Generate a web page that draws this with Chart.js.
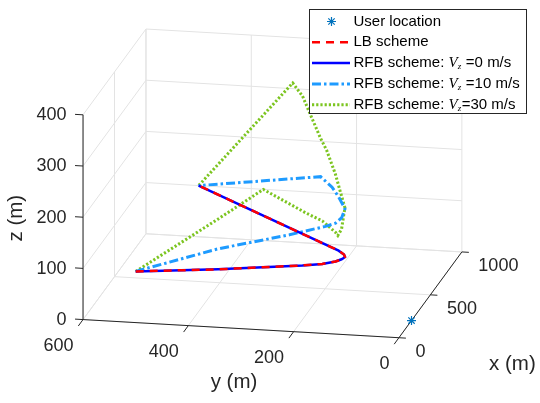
<!DOCTYPE html>
<html>
<head>
<meta charset="utf-8">
<script src="https://cdn.jsdelivr.net/npm/chart.js@4.4.0/dist/chart.umd.min.js"></script>
<style>
  html, body { margin: 0; padding: 0; background: #fff; }
  canvas { display: block; }
</style>
</head>
<body>
<canvas id="trajChart" width="540" height="403"></canvas>
<script>
// axis limits and ticks (m)
const xLim = [0, 1000];
const yLim = [0, 600];
const zLim = [0, 400];
const xTicks = [0, 500, 1000];
const yTicks = [0, 200, 400, 600];
const zTicks = [0, 100, 200, 300, 400];

const legendLabels = [
  "User location",
  "LB scheme",
  "RFB scheme: V_z =0 m/s",
  "RFB scheme: V_z =10 m/s",
  "RFB scheme: V_z=30 m/s",
];

// user location
const userX = [200];
const userY = [0];
const userZ = [0];

// LB scheme
const lbX = [0, 76, 174, 204, 239, 268, 284, 297, 323, 363, 1000];
const lbY = [500, 353, 204, 170, 149, 141, 139, 138, 143, 158, 500];
const lbZ = [100, 100, 100, 100, 100, 100, 100, 100, 100, 100, 100];

// RFB scheme, Vz = 0
const rfb0X = [0, 76, 174, 204, 239, 268, 284, 297, 323, 363, 1000];
const rfb0Y = [500, 353, 204, 170, 149, 141, 139, 138, 143, 158, 500];
const rfb0Z = [100, 100, 100, 100, 100, 100, 100, 100, 100, 100, 100];

// RFB scheme, Vz = 10
const rfb10X = [0, 76, 159, 194, 213, 239, 270, 290, 297, 332, 363, 393, 446, 1000];
const rfb10Y = [500, 353, 227, 181, 165, 149, 141, 139, 138, 146, 158, 174, 202, 500];
const rfb10Z = [100, 140, 161, 170, 172, 175, 181, 190, 194, 195, 205, 218, 228, 100];

// RFB scheme, Vz = 30
const rfb30X = [0, 76, 129, 179, 204, 239, 251, 268, 284, 297, 351, 378, 417, 445, 482, 527, 571, 1000];
const rfb30Y = [500, 353, 273, 198, 170, 149, 146, 141, 139, 138, 154, 166, 187, 202, 222, 246, 270, 500];
const rfb30Z = [100, 198, 252, 202, 184, 157, 149, 159, 182, 196, 220, 247, 285, 303, 333, 369, 386, 100];

// camera: screen position of (0,0,0) and displacement of each full axis span
const view = {
  origin: [401.7, 341.7],
  ex: [64.3, -88.3],
  ey: [-322.7, -18.7],
  ez: [0, -210.7],
};

function project(x, y, z) {
  const u = (x - xLim[0]) / (xLim[1] - xLim[0]);
  const v = (y - yLim[0]) / (yLim[1] - yLim[0]);
  const w = (z - zLim[0]) / (zLim[1] - zLim[0]);
  return {
    x: view.origin[0] + u * view.ex[0] + v * view.ey[0] + w * view.ez[0],
    y: view.origin[1] + u * view.ex[1] + v * view.ey[1] + w * view.ez[1],
  };
}

function toPoints(xs, ys, zs) {
  return xs.map((x, i) => project(x, ys[i], zs[i]));
}

const axisColor = "#262626";
const gridColor = "#e3e3e3";

const box3d = {
  id: "box3d",
  beforeDatasetsDraw(chart) {
    const ctx = chart.ctx;
    const sx = chart.scales.x;
    const sy = chart.scales.y;
    const P = (x, y, z) => {
      const p = project(x, y, z);
      return [sx.getPixelForValue(p.x), sy.getPixelForValue(p.y)];
    };
    function seg(a, b, color) {
      ctx.beginPath();
      ctx.moveTo(a[0], a[1]);
      ctx.lineTo(b[0], b[1]);
      ctx.strokeStyle = color;
      ctx.stroke();
    }
    ctx.save();
    ctx.lineWidth = 1;
    // back wall x = max
    yTicks.forEach((y) => seg(P(xLim[1], y, zLim[0]), P(xLim[1], y, zLim[1]), gridColor));
    zTicks.forEach((z) => seg(P(xLim[1], yLim[0], z), P(xLim[1], yLim[1], z), gridColor));
    // side wall y = max
    xTicks.forEach((x) => seg(P(x, yLim[1], zLim[0]), P(x, yLim[1], zLim[1]), gridColor));
    zTicks.forEach((z) => seg(P(xLim[0], yLim[1], z), P(xLim[1], yLim[1], z), gridColor));
    // floor
    yTicks.forEach((y) => seg(P(xLim[0], y, zLim[0]), P(xLim[1], y, zLim[0]), gridColor));
    xTicks.forEach((x) => seg(P(x, yLim[0], zLim[0]), P(x, yLim[1], zLim[0]), gridColor));

    // axis lines
    seg(P(xLim[0], yLim[1], zLim[0]), P(xLim[0], yLim[1], zLim[1]), axisColor);
    seg(P(xLim[0], yLim[0], zLim[0]), P(xLim[0], yLim[1], zLim[0]), axisColor);
    seg(P(xLim[0], yLim[0], zLim[0]), P(xLim[1], yLim[0], zLim[0]), axisColor);

    // ticks
    const unit = (a, b) => {
      const dx = b[0] - a[0], dy = b[1] - a[1];
      const l = Math.hypot(dx, dy);
      return [dx / l, dy / l];
    };
    const dzTick = unit(P(0, 0, 0), P(0, yLim[1], 0));
    const dyTick = unit(P(xLim[1], 0, 0), P(0, 0, 0));
    const dxTick = unit(P(0, yLim[1], 0), P(0, 0, 0));
    zTicks.forEach((z) => {
      const a = P(xLim[0], yLim[1], z);
      seg(a, [a[0] + dzTick[0] * 8, a[1] + dzTick[1] * 8], axisColor);
    });
    yTicks.forEach((y) => {
      const a = P(xLim[0], y, zLim[0]);
      seg(a, [a[0] + dyTick[0] * 8, a[1] + dyTick[1] * 8], axisColor);
    });
    xTicks.forEach((x) => {
      const a = P(x, yLim[0], zLim[0]);
      seg(a, [a[0] + dxTick[0] * 7, a[1] + dxTick[1] * 7], axisColor);
    });
    ctx.restore();
  },
  afterDatasetsDraw(chart) {
    const ctx = chart.ctx;
    const sx = chart.scales.x;
    const sy = chart.scales.y;
    const P = (x, y, z) => {
      const p = project(x, y, z);
      return [sx.getPixelForValue(p.x), sy.getPixelForValue(p.y)];
    };
    ctx.save();
    ctx.fillStyle = axisColor;
    ctx.font = '18px "Liberation Sans", Arial, sans-serif';
    ctx.textBaseline = "middle";
    // z tick labels
    ctx.textAlign = "right";
    zTicks.forEach((z) => {
      const a = P(xLim[0], yLim[1], z);
      ctx.fillText(String(z), a[0] - 16.5, a[1] + 0.5);
    });
    // y tick labels
    yTicks.forEach((y) => {
      const a = P(xLim[0], y, zLim[0]);
      ctx.fillText(String(y), a[0] - 9.5, a[1] + 26);
    });
    // x tick labels
    ctx.textAlign = "left";
    xTicks.forEach((x) => {
      const a = P(x, yLim[0], zLim[0]);
      ctx.fillText(String(x), a[0] + 16.5, a[1] + 14.5);
    });

    // axis titles
    ctx.font = '20.5px "Liberation Sans", Arial, sans-serif';
    ctx.textAlign = "center";
    const zMid = P(xLim[0], yLim[1], (zLim[0] + zLim[1]) / 2);
    ctx.save();
    ctx.translate(16.5, zMid[1] + 1);
    ctx.rotate(-Math.PI / 2);
    ctx.fillText("z (m)", 0, 0);
    ctx.restore();
    const yMid = P(xLim[0], (yLim[0] + yLim[1]) / 2, zLim[0]);
    ctx.fillText("y (m)", yMid[0] - 7, yMid[1] + 54);
    const xMid = P((xLim[0] + xLim[1]) / 2, yLim[0], zLim[0]);
    ctx.fillText("x (m)", xMid[0] + 82, xMid[1] + 70);

    // legend
    const lx = 309.5, ly = 9.5, lw = 217, lh = 104;
    ctx.fillStyle = "#ffffff";
    ctx.fillRect(lx, ly, lw, lh);
    ctx.strokeStyle = axisColor;
    ctx.lineWidth = 1;
    ctx.strokeRect(lx, ly, lw, lh);
    chart.data.datasets.forEach((ds, i) => {
      const yy = 21.5 + i * 20.8;
      if (ds.showLine) {
        ctx.save();
        ctx.beginPath();
        ctx.setLineDash(ds.borderDash || []);
        ctx.strokeStyle = ds.borderColor;
        ctx.lineWidth = ds.borderWidth;
        ctx.moveTo(312, yy);
        ctx.lineTo(350, yy);
        ctx.stroke();
        ctx.restore();
      } else {
        ctx.save();
        ctx.strokeStyle = ds.borderColor;
        ctx.fillStyle = ds.borderColor;
        ctx.lineWidth = 1.2;
        Chart.helpers.drawPoint(ctx, {
          pointStyle: "star", radius: 4.5, borderWidth: 1.2, rotation: 0,
        }, 331.5, yy);
        ctx.restore();
      }
      const label = legendLabels[i];
      const parts = label.split("V_z");
      ctx.fillStyle = "#000";
      ctx.textAlign = "left";
      ctx.font = '15px "Liberation Sans", Arial, sans-serif';
      let tx = 353.5;
      ctx.fillText(parts[0], tx, yy);
      tx += ctx.measureText(parts[0]).width;
      if (parts.length > 1) {
        ctx.font = 'italic 15px "Liberation Serif", serif';
        ctx.fillText("V", tx, yy);
        tx += ctx.measureText("V").width;
        ctx.font = 'italic 9px "Liberation Serif", serif';
        ctx.fillText("z", tx, yy + 4);
        tx += ctx.measureText("z").width + 0.5;
        ctx.font = '15px "Liberation Sans", Arial, sans-serif';
        ctx.fillText(parts[1], tx, yy);
      }
    });
    ctx.restore();
  },
};

new Chart(document.getElementById("trajChart"), {
  type: "scatter",
  data: {
    datasets: [
      {
        label: legendLabels[0],
        data: toPoints(userX, userY, userZ),
        showLine: false,
        pointStyle: "star",
        pointRadius: 4.5,
        pointBorderWidth: 1.2,
        borderColor: "#0072BD",
        backgroundColor: "#0072BD",
        order: 0,
      },
      {
        label: legendLabels[1],
        data: toPoints(lbX, lbY, lbZ),
        showLine: true,
        borderColor: "#ff0000",
        borderWidth: 2.5,
        borderDash: [8, 6],
        pointRadius: 0,
        fill: false,
        order: 1,
      },
      {
        label: legendLabels[2],
        data: toPoints(rfb0X, rfb0Y, rfb0Z),
        showLine: true,
        borderColor: "#0000ff",
        borderWidth: 2.5,
        pointRadius: 0,
        fill: false,
        order: 2,
      },
      {
        label: legendLabels[3],
        data: toPoints(rfb10X, rfb10Y, rfb10Z),
        showLine: true,
        borderColor: "#1e9bff",
        borderWidth: 3,
        borderDash: [9, 3, 2.5, 3],
        pointRadius: 0,
        fill: false,
        order: 3,
      },
      {
        label: legendLabels[4],
        data: toPoints(rfb30X, rfb30Y, rfb30Z),
        showLine: true,
        borderColor: "#7cc520",
        borderWidth: 3,
        borderDash: [2.2, 2],
        pointRadius: 0,
        fill: false,
        order: 4,
      },
    ],
  },
  options: {
    responsive: false,
    animation: false,
    devicePixelRatio: 1,
    layout: { padding: 0 },
    plugins: { legend: { display: false }, tooltip: { enabled: false } },
    scales: {
      x: { type: "linear", min: 0, max: 540, display: false },
      y: { type: "linear", min: 0, max: 403, reverse: true, display: false },
    },
  },
  plugins: [box3d],
});
</script>
</body>
</html>
